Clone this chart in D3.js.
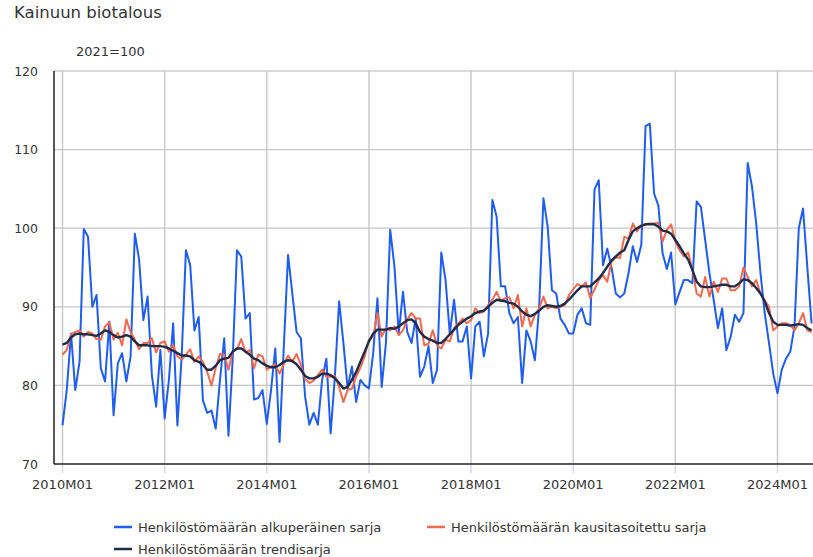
<!DOCTYPE html>
<html>
<head>
<meta charset="utf-8">
<script src="https://cdn.jsdelivr.net/npm/d3@7/dist/d3.min.js"></script>
<style>
  body { margin: 0; background: #fff; }
  text { font-family: "DejaVu Sans", Verdana, sans-serif; fill: #333; }
</style>
</head>
<body>
<svg></svg>
<script>
// monthly series, 2010M01 .. 2024M09 (index 0 = 2010M01)
var original = [74.9,79.4,86.6,79.4,83.0,99.9,98.9,90.0,91.5,82.2,80.5,88.1,
  76.2,82.8,84.1,80.5,83.7,99.3,96.0,88.3,91.3,81.3,77.3,84.5,
  75.8,80.7,87.9,74.9,83.7,97.2,95.3,87.0,88.7,78.1,76.5,76.8,
  74.5,80.7,86.0,73.6,83.5,97.2,96.4,88.5,89.2,78.2,78.4,79.4,
  75.1,79.4,84.7,72.8,84.9,96.6,91.7,86.8,86.0,78.6,75.0,76.5,
  75.0,80.7,83.4,73.9,81.1,90.7,85.4,79.6,82.4,77.9,80.7,80.0,
  79.6,84.1,91.1,79.8,85.4,99.8,95.1,86.6,91.9,86.8,85.4,88.5,
  81.1,82.4,85.0,80.3,82.0,96.9,93.4,86.6,90.9,85.6,85.6,87.5,
  80.9,87.5,88.1,83.7,86.6,103.6,101.5,92.6,92.6,89.2,87.9,88.7,
  80.3,87.0,85.6,83.2,90.0,103.8,100.2,92.1,91.7,88.5,87.7,86.6,
  86.6,89.0,89.8,87.9,87.7,104.9,106.1,95.3,97.4,95.0,91.7,91.2,
  91.7,94.3,97.7,95.7,97.9,113.0,113.3,104.4,102.9,96.8,94.8,96.9,
  90.3,91.9,93.4,93.4,93.0,103.4,102.7,98.5,94.3,90.9,87.3,89.8,
  84.5,86.2,89.0,88.1,89.2,108.3,105.3,100.6,94.3,89.2,85.4,81.5,
  79.0,82.0,83.4,84.3,87.5,100.0,102.5,95.1,87.9];

var adjusted = [83.9,84.5,86.5,86.8,87.0,86.2,86.8,86.6,85.9,85.8,87.5,88.0,
  85.8,86.7,85.1,88.4,86.8,85.8,84.6,85.4,85.4,86.0,84.2,85.4,
  85.6,84.3,85.1,83.7,83.3,83.9,84.6,83.0,83.7,83.0,81.7,80.0,
  82.2,84.0,83.9,82.0,84.3,84.6,85.9,84.2,84.5,82.2,83.9,83.7,
  82.0,82.4,82.6,81.5,82.7,83.8,83.0,84.0,82.6,80.8,80.3,80.6,
  81.3,82.0,81.1,81.1,81.2,79.8,77.9,79.4,79.6,81.1,82.3,83.7,
  85.8,86.2,89.2,86.2,87.3,87.0,87.5,86.4,87.0,88.4,89.2,88.5,
  88.5,85.1,85.3,87.0,85.1,84.7,85.8,85.6,87.3,87.9,88.5,87.9,
  88.3,89.8,89.2,89.4,90.2,90.9,91.9,90.7,91.1,91.2,89.8,91.5,
  87.5,89.8,87.5,89.0,89.8,91.3,89.8,90.0,89.8,90.0,90.2,91.5,
  92.2,92.9,92.6,93.1,91.1,92.2,93.4,94.0,93.2,95.7,96.3,96.2,
  98.9,98.7,100.6,99.6,100.4,100.5,100.6,100.6,100.7,98.3,99.8,100.5,
  98.3,97.2,96.4,96.9,94.8,91.7,91.3,93.8,91.3,93.2,91.9,93.6,
  93.6,92.1,92.1,92.6,95.0,93.8,92.6,93.4,91.7,90.8,90.0,87.0,
  87.5,87.9,87.9,87.7,87.0,87.9,89.2,87.0,86.8];

var trend = [85.2,85.4,86.1,86.5,86.6,86.5,86.5,86.4,86.3,86.6,87.0,86.8,
  86.4,86.1,86.2,86.4,86.2,85.6,85.1,85.1,85.1,85.0,85.0,85.0,
  84.9,84.7,84.4,84.1,83.8,83.8,83.7,83.2,83.0,82.6,82.0,82.0,
  82.5,83.2,83.4,83.5,84.3,84.7,84.7,84.3,83.9,83.4,83.2,82.8,
  82.5,82.3,82.3,82.6,83.0,83.2,83.1,82.7,82.0,81.2,80.9,80.9,
  81.1,81.5,81.5,81.3,80.9,80.3,79.6,79.8,80.7,81.7,83.0,84.3,
  85.6,86.6,87.1,87.1,87.1,87.3,87.2,87.5,87.9,88.3,88.4,87.9,
  86.8,86.2,85.9,85.7,85.4,85.4,85.9,86.5,87.1,87.7,88.1,88.5,
  88.8,89.2,89.4,89.5,90.0,90.5,90.9,90.8,90.7,90.5,90.4,90.0,
  89.4,89.0,88.8,89.1,89.5,90.0,90.2,90.1,90.0,90.1,90.4,90.9,
  91.5,92.1,92.6,92.6,92.6,93.1,93.6,94.3,95.1,95.9,96.4,96.9,
  97.2,98.5,99.6,100.0,100.3,100.5,100.5,100.5,100.2,99.7,99.6,99.3,
  98.5,97.7,96.8,96.0,94.7,93.2,92.6,92.5,92.5,92.6,92.7,92.8,
  92.8,92.6,92.6,93.0,93.5,93.4,93.0,92.4,91.7,90.7,89.2,88.1,
  87.7,87.7,87.7,87.6,87.7,87.8,87.7,87.3,87.0];

var tickMonths = [0, 24, 48, 72, 96, 120, 144, 168];
var tickLabels = ["2010M01","2012M01","2014M01","2016M01","2018M01","2020M01","2022M01","2024M01"];
var yTicks = [70, 80, 90, 100, 110, 120];

var seriesNames = ["Henkilöstömäärän alkuperäinen sarja",
                   "Henkilöstömäärän kausitasoitettu sarja",
                   "Henkilöstömäärän trendisarja"];
var colors = ["#1f5cf0", "#f4684c", "#1e2b4a"];

var svgWidth = 813, svgHeight = 557;
var plotLeft = 54, plotTop = 71, plotRight = 813, plotBottom = 464;

var svg = d3.select("svg").attr("width", svgWidth).attr("height", svgHeight);

var xScale = d3.scaleLinear().domain([0, 168]).range([62.5, 777.5]);
var yScale = d3.scaleLinear().domain([70, 120]).range([plotBottom, plotTop]);

// title
svg.append("text").text("Kainuun biotalous")
  .attr("x", 14).attr("y", 18)
  .style("font-size", "16.5px");

svg.append("text").text("2021=100")
  .attr("x", 76).attr("y", 56)
  .style("font-size", "13px");

// horizontal grid
svg.append("g").selectAll("line")
  .data(yTicks.filter(function(d){ return d > 70; }))
  .enter().append("line")
  .attr("x1", plotLeft).attr("x2", plotRight)
  .attr("y1", function(d){ return yScale(d); })
  .attr("y2", function(d){ return yScale(d); })
  .attr("stroke", function(d){ return d == 120 ? "#d9d9d9" : "#c4c4c4"; })
  .attr("stroke-width", function(d){ return d == 120 ? 2 : 1.3; });

// vertical grid + tick stubs
var vg = svg.append("g");
vg.selectAll("line.grid")
  .data(tickMonths)
  .enter().append("line")
  .attr("class", "grid")
  .attr("x1", function(d){ return xScale(d); })
  .attr("x2", function(d){ return xScale(d); })
  .attr("y1", plotTop).attr("y2", plotBottom)
  .attr("stroke", "#c4c4c4").attr("stroke-width", 1.3);
vg.selectAll("line.tick")
  .data(tickMonths)
  .enter().append("line")
  .attr("class", "tick")
  .attr("x1", function(d){ return xScale(d); })
  .attr("x2", function(d){ return xScale(d); })
  .attr("y1", plotBottom).attr("y2", plotBottom + 9)
  .attr("stroke", "#c9d8f2").attr("stroke-width", 1.3);

// y labels
svg.append("g").selectAll("text")
  .data(yTicks)
  .enter().append("text")
  .text(function(d){ return d; })
  .attr("x", 38)
  .attr("y", function(d){ return yScale(d) + 4.5; })
  .attr("text-anchor", "end")
  .style("font-size", "12.5px");

// x labels
svg.append("g").selectAll("text")
  .data(tickMonths)
  .enter().append("text")
  .text(function(d, i){ return tickLabels[i]; })
  .attr("x", function(d){ return xScale(d); })
  .attr("y", 489)
  .attr("text-anchor", "middle")
  .style("font-size", "13px");

// lines
svg.append("defs").append("clipPath").attr("id", "plot")
  .append("rect").attr("x", plotLeft).attr("y", plotTop - 5)
  .attr("width", plotRight - plotLeft).attr("height", plotBottom - plotTop + 5);

var line = d3.line()
  .x(function(d, i){ return xScale(i); })
  .y(function(d){ return yScale(d); });

var lines = svg.append("g").attr("clip-path", "url(#plot)");
[original, adjusted, trend].forEach(function(s, k){
  lines.append("path")
    .datum(s)
    .attr("d", line)
    .attr("fill", "none")
    .attr("stroke", colors[k])
    .attr("stroke-width", k == 2 ? 2.4 : 2)
    .attr("stroke-linejoin", "round");
});

// axes
svg.append("line").attr("x1", plotLeft).attr("x2", plotLeft)
  .attr("y1", plotTop).attr("y2", plotBottom)
  .attr("stroke", "#222").attr("stroke-width", 1.5);
svg.append("line").attr("x1", plotLeft).attr("x2", plotRight)
  .attr("y1", plotBottom).attr("y2", plotBottom)
  .attr("stroke", "#222").attr("stroke-width", 1.5);

// legend
var legendPos = [[114, 527], [427, 527], [114, 549]];
var legend = svg.append("g").selectAll("g")
  .data(seriesNames)
  .enter().append("g")
  .attr("transform", function(d, i){ return "translate(" + legendPos[i][0] + "," + legendPos[i][1] + ")"; });
legend.append("line")
  .attr("x1", 0).attr("x2", 18)
  .attr("stroke", function(d, i){ return colors[i]; })
  .attr("stroke-width", 2.5);
legend.append("text")
  .text(function(d){ return d; })
  .attr("x", 24).attr("y", 4.5)
  .style("font-size", "13px");
</script>
</body>
</html>
